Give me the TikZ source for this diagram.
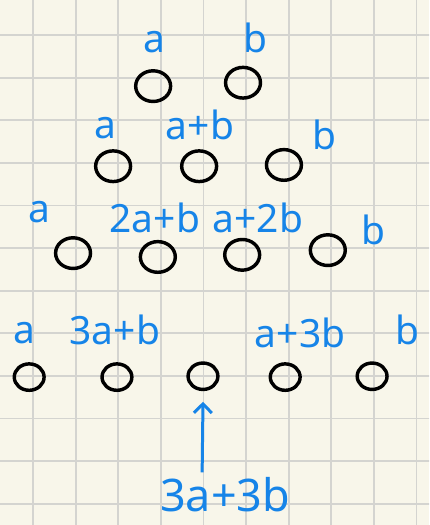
\documentclass[tikz,border=0pt]{standalone}
\usepackage{fontspec}
\setmainfont{Noto Sans}
\usetikzlibrary{arrows.meta,shapes.geometric}
\definecolor{paper}{RGB}{248,246,234}
\definecolor{gridgray}{RGB}{212,212,208}
\definecolor{pen}{RGB}{22,132,232}
\tikzset{
  dot/.style={draw,ellipse,line width=2.3pt,minimum width=0.82cm,minimum height=0.72cm,inner sep=0pt},
  smalldot/.style={dot,minimum width=0.7cm,minimum height=0.62cm},
  lbl/.style={text=pen,font=\fontsize{26}{26}\selectfont,inner sep=0pt},
}

\begin{document}
\begin{tikzpicture}[scale=1]
% paper and grid
\fill[paper] (-0.775,0.822) rectangle (9.296,-11.502);
\useasboundingbox (-0.775,0.822) rectangle (9.296,-11.502);
\begin{scope}
\clip (-0.775,0.822) rectangle (9.296,-11.502);
\draw[gridgray,line width=1.2pt] (-1,-12) grid (10,1);
\end{scope}

% rows of circles
\node[dot] (r1a) at (2.82,-1.20) {};
\node[dot] (r1b) at (4.93,-1.12) {};
\node[dot] (r2a) at (1.88,-3.08) {};
\node[dot] (r2b) at (3.90,-3.08) {};
\node[dot] (r2c) at (5.89,-3.05) {};
\node[dot] (r3a) at (0.94,-5.12) {};
\node[dot] (r3b) at (2.93,-5.21) {};
\node[dot] (r3c) at (4.91,-5.16) {};
\node[dot] (r3d) at (6.92,-5.05) {};
\node[smalldot] (r4a) at (-0.09,-8.03) {};
\node[smalldot] (r4b) at (1.97,-8.03) {};
\node[smalldot] (r4c) at (3.99,-8.01) {};
\node[smalldot] (r4d) at (5.92,-8.03) {};
\node[smalldot] (r4e) at (7.96,-8.01) {};

% labels
\node[lbl] (l1a) at (2.86,-0.16) {a};
\node[lbl] (l1b) at (5.23,-0.07) {b};
\node[lbl] (l2a) at (1.69,-2.18) {a};
\node[lbl] (l2b) at (3.92,-2.11) {a+b};
\node[lbl] (l2c) at (6.85,-2.35) {b};
\node[lbl] (l3a) at (0.16,-4.15) {a};
\node[lbl] (l3b) at (2.86,-4.30) {2a+b};
\node[lbl] (l3c) at (5.28,-4.30) {a+2b};
\node[lbl] (l3d) at (8.00,-4.58) {b};
\node[lbl] (l4a) at (-0.21,-7.00) {a};
\node[lbl] (l4b) at (1.92,-6.92) {3a+b};
\node[lbl] (l4d) at (6.27,-7.00) {a+3b};
\node[lbl] (l4e) at (8.80,-6.92) {b};
\node[lbl,font=\fontsize{30}{30}\selectfont] (sum) at (4.51,-10.80) {3a+3b};

% arrow to the middle
\draw[pen,line width=2pt,-{Straight Barb[length=6pt,width=12pt]}] ([xshift=-0.54cm,yshift=0.12cm]sum.north) -- ([yshift=-0.25cm]r4c.south);
\end{tikzpicture}
\end{document}
